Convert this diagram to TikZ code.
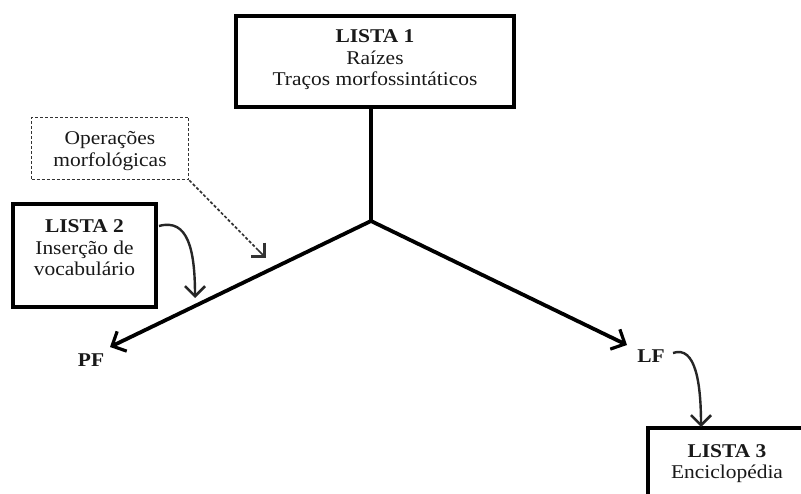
\documentclass[tikz,border=0pt]{standalone}
\usepackage{fontspec}
\setmainfont{Liberation Serif}
\usetikzlibrary{arrows.meta}
\newcommand\hstr[1]{\scalebox{1.1}[1]{#1}}
\begin{document}
\begin{tikzpicture}[x=1pt,y=-1pt,
  txt/.style={font=\fontsize{19.5}{21.5}\selectfont, align=center, inner sep=0pt, text=black!90},
  thickbox/.style={draw, line width=3.8pt, inner sep=0pt},
  dbox/.style={draw=black!80, line width=1.7pt, dash pattern=on 3pt off 2pt, inner sep=0pt},
  mainline/.style={line width=3.8pt},
  tip/.style={-{Straight Barb[length=11pt,width=22pt,line width=3.2pt]}},
  ctip/.style={-{Straight Barb[length=10pt,width=20pt,line width=2.6pt]}},
  curv/.style={line width=2.4pt, black!85}]
\useasboundingbox (0,0) rectangle (801,494);
\clip (0,0) rectangle (801,494);
\fill[white] (0,0) rectangle (801,494);
% LISTA 1
\node[thickbox, minimum width=278pt, minimum height=91pt] (L1) at (375,61.5) {};
\node[txt] (L1t) at (375,60) {\hstr{\textbf{LISTA 1}}\\\hstr{Raízes}\\\hstr{Traços morfossintáticos}};
% Operações
\node[dbox, minimum width=157pt, minimum height=62pt] (OP) at (110,148.5) {};
\node[txt] (OPt) at (110,151) {\hstr{Operações}\\\hstr{morfológicas}};
% LISTA 2
\node[thickbox, minimum width=143pt, minimum height=103pt] (L2) at (84.5,255.5) {};
\node[txt] (L2t) at (84.5,248) {\hstr{\textbf{LISTA 2}}\\\hstr{Inserção de}\\\hstr{vocabulário}};
% LISTA 3
\node[thickbox, minimum width=159pt, minimum height=80pt] (L3) at (727.5,468) {};
\node[txt] (L3t) at (727,463.5) {\hstr{\textbf{LISTA 3}}\\\hstr{Enciclopédia}};
% PF, LF
\node[txt] (PF) at (91,360) {\hstr{\textbf{PF}}};
\node[txt] (LF) at (651,356) {\hstr{\textbf{LF}}};
% coordinates
\coordinate (J) at (371,221);
\coordinate (Jtop) at (371,108);
\coordinate (PFtip) at (110,347);
\coordinate (LFtip) at (627,345);
\coordinate (L2start) at (159,226);
\coordinate (L2tip) at (195,298);
\coordinate (LFstart) at (673,353);
\coordinate (L3tip) at (701,427);
\coordinate (OPmid) at (258,250);
\coordinate (OPtip) at (266,258);
% main tree
\draw[mainline] (Jtop) -- (J);
\draw[mainline, tip] (J) -- (PFtip);
\draw[mainline, tip] (J) -- (LFtip);
% curved arrows
\draw[curv, ctip] (L2start) .. controls (188,218) and (195,250) .. (L2tip);
\draw[curv, ctip] (LFstart) .. controls (696,345) and (701,385) .. (L3tip);
% dashed arrow
\draw[black!80, line width=1.7pt, dash pattern=on 3pt off 2pt] (OP.south east) -- (OPmid);
\draw[black!80, line width=1.7pt, ctip] (OPmid) -- (OPtip);
\end{tikzpicture}
\end{document}
